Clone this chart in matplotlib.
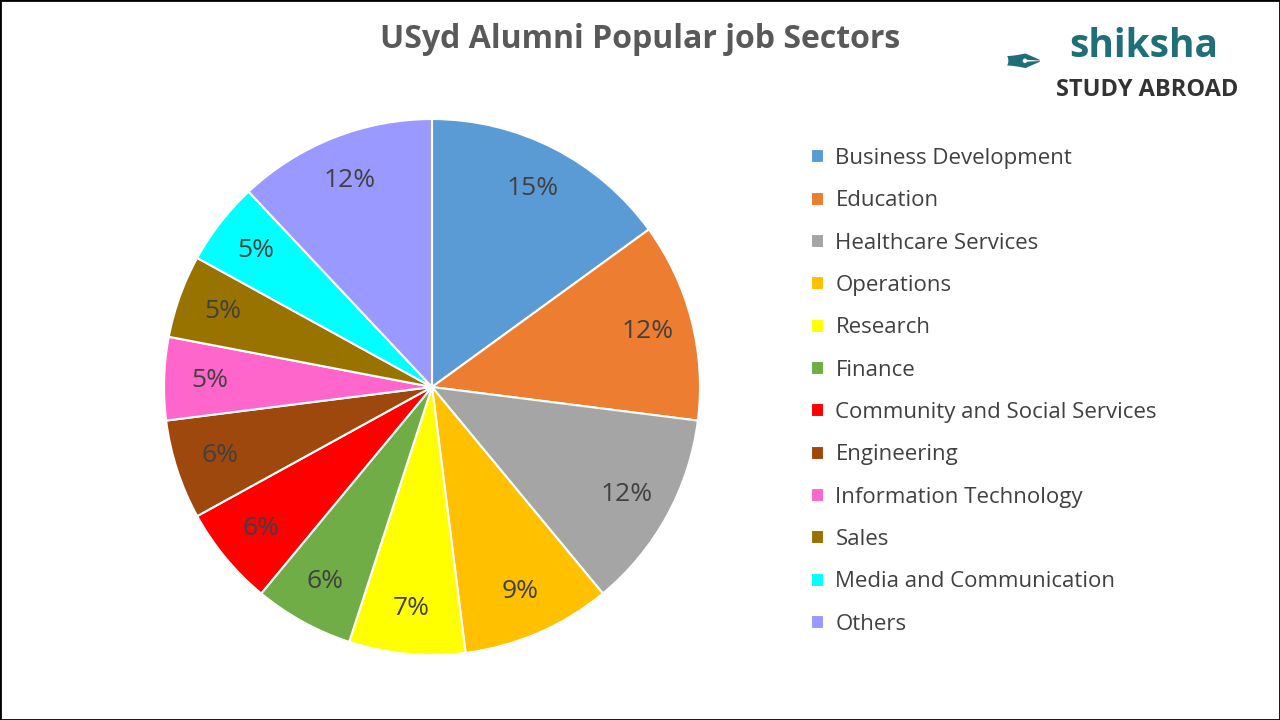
import matplotlib.pyplot as plt
from matplotlib.patches import Rectangle

plt.rcParams['font.family'] = ['Open Sans', 'DejaVu Sans']

sectors = ['Business Development', 'Education', 'Healthcare Services', 'Operations',
           'Research', 'Finance', 'Community and Social Services', 'Engineering',
           'Information Technology', 'Sales', 'Media and Communication', 'Others']
shares = [15, 12, 12, 9, 7, 6, 6, 6, 5, 5, 5, 12]
colors = ['#5b9bd5', '#ed7d31', '#a5a5a5', '#ffc000', '#ffff00', '#70ad47',
          '#ff0000', '#9e480e', '#ff66cc', '#997300', '#00ffff', '#9999ff']

fig = plt.figure(figsize=(12.8, 7.2), dpi=100)
ax = fig.add_axes([0.3375 - 0.2094, 0.4625 - 0.3722, 0.4188, 0.7444])
wedges, texts, autotexts = ax.pie(
    shares, colors=colors, startangle=90, counterclock=False,
    autopct='%d%%', pctdistance=0.83,
    wedgeprops=dict(edgecolor='white', linewidth=1.5),
    textprops=dict(fontsize=19, color='#404040'))
ax.set_xlim(-1, 1)
ax.set_ylim(-1, 1)
ax.set_aspect('equal')

fig.legend(wedges, sectors, loc='upper left', bbox_to_anchor=(0.618, 0.822),
           frameon=False, fontsize=16, labelcolor='#404040',
           handlelength=0.6, handleheight=0.6, handletextpad=0.5,
           labelspacing=0.96)

fig.text(0.5, 0.945, 'USyd Alumni Popular job Sectors', ha='center', va='center',
         fontsize=23, fontweight='bold', color='#595959')

# logo stand-in
fig.text(0.835, 0.935, 'shiksha', ha='left', va='center', fontsize=28,
         color='#1f6f78', fontweight='bold')
fig.text(0.825, 0.875, 'STUDY ABROAD', ha='left', va='center', fontsize=17,
         color='#333333', fontweight='bold')
fig.text(0.80, 0.91, '✒', ha='center', va='center', fontsize=34, color='#1f6f78')

fig.patches.append(Rectangle((0, 0), 1, 1, transform=fig.transFigure,
                             fill=False, edgecolor='black', linewidth=2))
fig.savefig('out.png', dpi=100)
